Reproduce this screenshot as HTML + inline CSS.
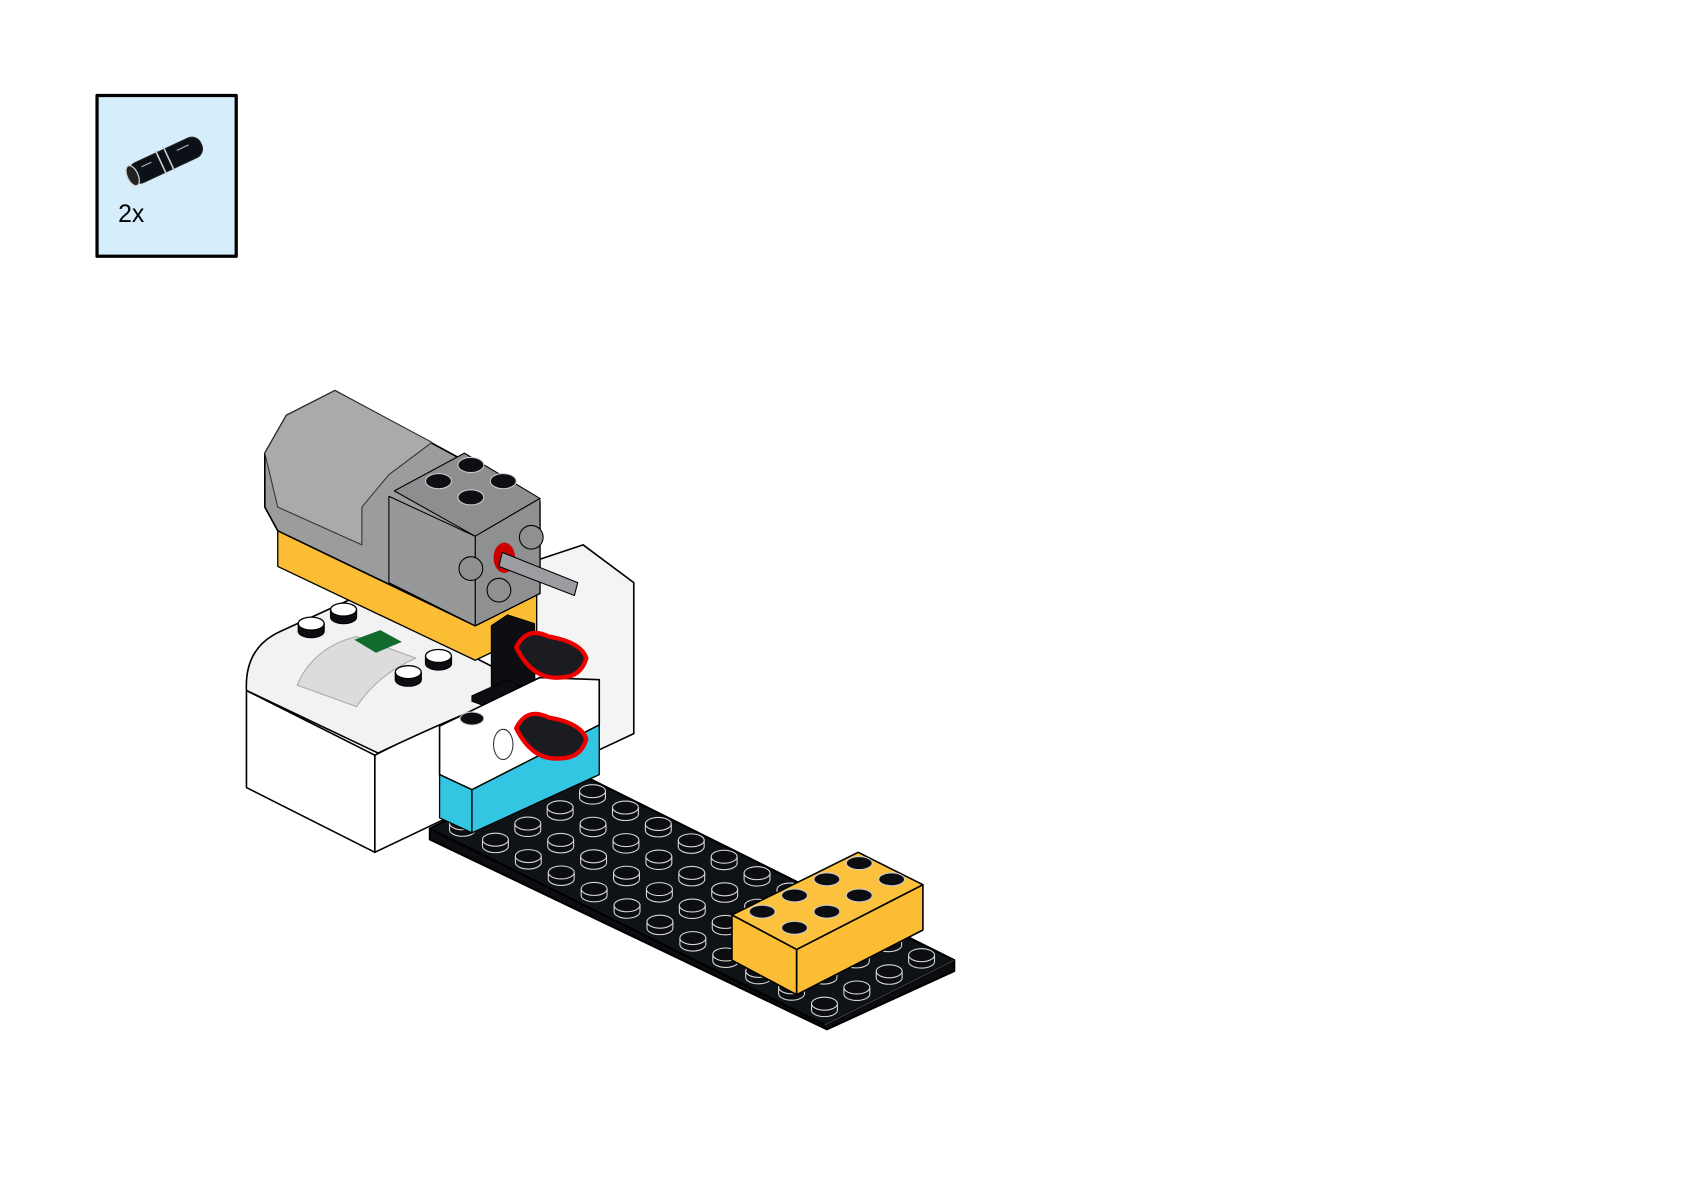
<!DOCTYPE html>
<html><head><meta charset="utf-8"><style>
html,body{margin:0;padding:0;background:#fff;}
svg{display:block;}
</style></head><body>
<svg width="1684" height="1190" viewBox="0 0 1560 1103" xmlns="http://www.w3.org/2000/svg" stroke-linejoin="round">
<rect x="0" y="0" width="1560" height="1103" fill="#fff"/>
<rect x="89.5" y="88.5" width="129" height="149" fill="#d6edfc" stroke="#000" stroke-width="3"/>
<g transform="rotate(-25 152 148)">
<rect x="117" y="139" width="72" height="20" rx="9" fill="#0b1116" stroke="#222" stroke-width="1"/>
<ellipse cx="119" cy="149" rx="5" ry="10" fill="#222" stroke="#ccc" stroke-width="1.2"/>
<line x1="148" y1="137" x2="148" y2="161" stroke="#ccc" stroke-width="1.5"/>
<line x1="156" y1="137" x2="156" y2="161" stroke="#ccc" stroke-width="1.5"/>
<line x1="130" y1="145" x2="140" y2="145" stroke="#bbb" stroke-width="1"/>
<line x1="166" y1="145" x2="178" y2="145" stroke="#bbb" stroke-width="1"/>
</g>
<text x="109" y="206" font-family="Liberation Sans, sans-serif" font-size="23" fill="#000">2x</text>

<polygon points="398,768 518,708 884,890 884,900 766,954 398,778" fill="#0b0d10" stroke="#000" stroke-width="2"/>
<polygon points="398,768 518,708 884,890 764,950" fill="#0f1216" stroke="#000" stroke-width="2"/>
<line x1="764" y1="950" x2="884" y2="890" stroke="#444" stroke-width="1"/>
<g id="studs" fill="#0b0d10" stroke="#d8d8d8" stroke-width="1">
</g>
<script>
(function(){var g=document.getElementById('studs');var ns='http://www.w3.org/2000/svg';
for(var i=0;i<12;i++)for(var j=0;j<4;j++){var x=398+(i+0.5)*30.5+(j+0.5)*30,y=768+(i+0.5)*15.2-(j+0.5)*15-5;
var e=document.createElementNS(ns,'path');e.setAttribute('d','M'+(x-12)+','+y+' v6 a12,6 0 0 0 24,0 v-6');g.appendChild(e);
var t=document.createElementNS(ns,'ellipse');t.setAttribute('cx',x);t.setAttribute('cy',y);t.setAttribute('rx',12);t.setAttribute('ry',6);g.appendChild(t);}})();
</script>

<polygon points="228,640 347,700 347,790 228,730" fill="#fff" stroke="#000" stroke-width="1.5"/>
<polygon points="347,700 410,668 410,760 347,790" fill="#fff" stroke="#000" stroke-width="1.5"/>
<path d="M228,640 Q226,600 260,585 L330,553 L460,620 L460,650 Q420,665 350,698 Z" fill="#f2f2f2" stroke="#000" stroke-width="1.5"/>
<path d="M275,635 Q290,600 330,590 L385,610 Q350,625 330,655 Z" fill="#dcdcdc" stroke="#aaa"/>
<polygon points="328,593 352,584 372,595 348,605" fill="#116b2c"/>
<g id="wst" fill="#fff" stroke="#000" stroke-width="1.2"></g>
<polygon points="495,520 540,505 587,540 587,680 555,695 495,660" fill="#f4f4f4" stroke="#000" stroke-width="1.5"/>
<polygon points="257,490 440,578 497,550 497,585 440,612 257,525" fill="#fbbd33" stroke="#000" stroke-width="1.2"/>
<polygon points="245,420 265,385 310,362 500,465 500,550 440,580 257,492 245,470" fill="#9a9c9e" stroke="#000" stroke-width="1.5"/>
<polygon points="245,420 265,385 310,362 400,410 360,440 335,470 335,505 257,470" fill="#a8aaac" stroke="#333" stroke-width="1"/>
<polygon points="365,455 430,420 500,462 440,497" fill="#8c8e90" stroke="#000" stroke-width="1"/>
<polygon points="440,497 500,462 500,550 440,580" fill="#8e9092" stroke="#000" stroke-width="1"/>
<polygon points="360,460 440,497 440,580 360,540" fill="#96989a" stroke="#000" stroke-width="1"/>
<g fill="#0d0f12" stroke="#ccc" stroke-width="1">
<ellipse cx="436" cy="431" rx="12" ry="7"/><ellipse cx="406" cy="446" rx="12" ry="7"/><ellipse cx="466" cy="446" rx="12" ry="7"/><ellipse cx="436" cy="461" rx="12" ry="7"/>
</g>
<ellipse cx="467" cy="517" rx="10" ry="14" fill="#c00"/>
<polygon points="465,512 535,540 532,552 462,525" fill="#9b9da0" stroke="#000"/>
<g fill="#8e9092" stroke="#000"><circle cx="436" cy="527" r="11"/><circle cx="462" cy="547" r="11"/><circle cx="492" cy="498" r="11"/></g>
<polygon points="455,580 470,570 495,578 495,640 470,655 455,645" fill="#0b0d10" stroke="#000"/>
<polygon points="437,645 470,630 500,645 470,662 437,650" fill="#0b0d10" stroke="#000"/>
<polygon points="407,673 500,628 555,630 555,672 437,732 407,718" fill="#fff" stroke="#000" stroke-width="1.5"/>
<polygon points="407,718 437,732 437,772 407,758" fill="#33c6e3" stroke="#000" stroke-width="1.2"/>
<polygon points="437,732 555,672 555,718 437,772" fill="#33c6e3" stroke="#000" stroke-width="1.2"/>
<ellipse cx="466" cy="690" rx="9" ry="14" fill="#fff" stroke="#333"/>
<ellipse cx="437" cy="666" rx="11" ry="6" fill="#0b0d10" stroke="#ccc"/>
<path d="M478,600 q10,-20 30,-10 q30,5 35,20 q-5,18 -25,18 q-25,2 -40,-28z" fill="#1a1c20" stroke="#e00" stroke-width="4"/>
<path d="M478,675 q10,-20 30,-10 q30,5 35,20 q-5,18 -25,18 q-25,2 -40,-28z" fill="#1a1c20" stroke="#e00" stroke-width="4"/>
<polygon points="678,848 738,880 738,922 678,890" fill="#fbbd33" stroke="#000" stroke-width="1.5"/>
<polygon points="738,880 855,820 855,862 738,922" fill="#fbbd33" stroke="#000" stroke-width="1.5"/>
<polygon points="678,848 795,790 855,820 738,880" fill="#fcc23e" stroke="#000" stroke-width="1.5"/>
<g fill="#0b0d10" stroke="#ccc" stroke-width="1">
<ellipse cx="796" cy="800" rx="12" ry="6"/><ellipse cx="826" cy="815" rx="12" ry="6"/>
<ellipse cx="766" cy="815" rx="12" ry="6"/><ellipse cx="796" cy="830" rx="12" ry="6"/>
<ellipse cx="736" cy="830" rx="12" ry="6"/><ellipse cx="766" cy="845" rx="12" ry="6"/>
<ellipse cx="706" cy="845" rx="12" ry="6"/><ellipse cx="736" cy="860" rx="12" ry="6"/>
</g>
<script>
(function(){var g=document.getElementById('wst');var ns='http://www.w3.org/2000/svg';
[[288,578],[318,565],[378,623],[406,608],[528,548]].forEach(function(p){var x=p[0],y=p[1];
var e=document.createElementNS(ns,'path');e.setAttribute('d','M'+(x-12)+','+y+' v7 a12,6 0 0 0 24,0 v-7');e.setAttribute('fill','#0b0d10');g.appendChild(e);
var t=document.createElementNS(ns,'ellipse');t.setAttribute('cx',x);t.setAttribute('cy',y);t.setAttribute('rx',12);t.setAttribute('ry',6);g.appendChild(t);});})();
</script>
</svg>
</body></html>
